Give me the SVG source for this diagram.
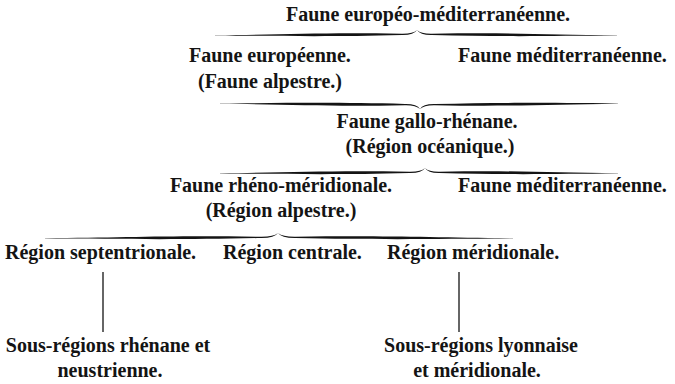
<svg xmlns="http://www.w3.org/2000/svg" xmlns:xlink="http://www.w3.org/1999/xlink" width="675" height="384" viewBox="0 0 675 384">
<style>
text{font-family:"Liberation Serif","Times New Roman",serif;font-weight:bold;font-size:20px;fill:#141414}
.m{text-anchor:middle}
.arm{fill:#141414}
.vl{stroke:#141414;stroke-width:1.3;fill:none}
</style>
<defs>
<path id="arm" class="arm" d="M-200,5.2 C-130,4.6 -90,2.2 -15,3.8 Q-4,4 0,0 Q-3,5.2 -15,5 C-80,6.8 -130,6 -200,5.6 Z"/>
</defs>
<rect width="675" height="384" fill="#ffffff"/>
<g id="connectors">
<use xlink:href="#arm" transform="translate(417,30) scale(1.01,1)"/>
<use xlink:href="#arm" transform="translate(417,30) scale(-1,1)"/>
<use xlink:href="#arm" transform="translate(420,109) scale(1,-1)"/>
<use xlink:href="#arm" transform="translate(420,109) scale(-0.99,-1)"/>
<use xlink:href="#arm" transform="translate(425,168) scale(1.025,1)"/>
<use xlink:href="#arm" transform="translate(425,168) scale(-0.965,1)"/>
<use xlink:href="#arm" transform="translate(278,233) scale(1.165,1)"/>
<use xlink:href="#arm" transform="translate(278,233) scale(-1.175,1)"/>
<line class="vl" x1="103" y1="272" x2="103" y2="332"/>
<line class="vl" x1="459" y1="272" x2="459" y2="332"/>
</g>
<g id="n-europeo-med"><text class="m" x="428" y="21">Faune européo-méditerranéenne.</text></g>
<g id="n-europeenne"><text x="189" y="62">Faune européenne.</text><text class="m" x="270" y="88">(Faune alpestre.)</text></g>
<g id="n-mediterraneenne-1"><text x="458" y="62">Faune méditerranéenne.</text></g>
<g id="n-gallo-rhenane"><text class="m" x="427" y="128">Faune gallo-rhénane.</text><text class="m" x="430" y="153">(Région océanique.)</text></g>
<g id="n-rheno-meridionale"><text class="m" x="281" y="192">Faune rhéno-méridionale.</text><text class="m" x="281" y="217">(Région alpestre.)</text></g>
<g id="n-mediterraneenne-2"><text x="458" y="192">Faune méditerranéenne.</text></g>
<g id="n-septentrionale"><text x="5" y="259">Région septentrionale.</text></g>
<g id="n-centrale"><text x="223" y="259">Région centrale.</text></g>
<g id="n-meridionale"><text x="387" y="259">Région méridionale.</text></g>
<g id="n-rhenane-neustrienne"><text class="m" x="108" y="352">Sous-régions rhénane et</text><text class="m" x="110" y="377">neustrienne.</text></g>
<g id="n-lyonnaise-meridionale"><text class="m" x="481" y="352">Sous-régions lyonnaise</text><text class="m" x="477" y="377">et méridionale.</text></g>
</svg>
